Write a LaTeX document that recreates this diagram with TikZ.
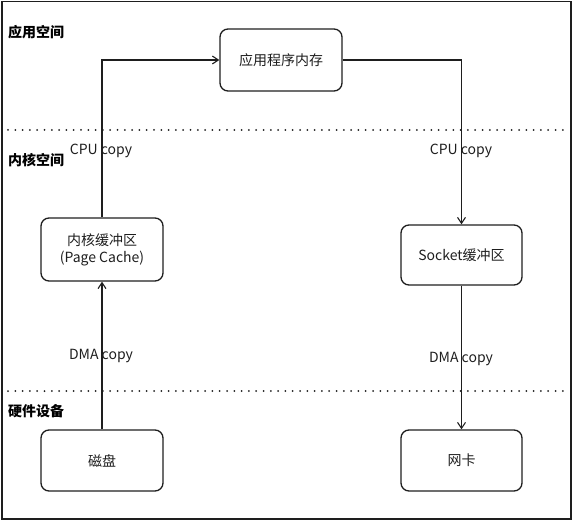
\documentclass[tikz,border=0pt]{standalone}
\usepackage{fontspec}
\setmainfont{Noto Sans CJK SC}
\usetikzlibrary{arrows.meta}
\definecolor{ink}{HTML}{1E1E1E}
\tikzset{
  box/.style={draw=ink, line width=1.3pt, rounded corners=8pt, minimum width=122pt, minimum height=62pt, inner sep=0pt, align=center, font=\fontsize{14}{17}\selectfont, text=ink},
  link/.style={draw=ink, line width=1.2pt, -{Straight Barb[length=6pt,width=8pt,line width=1.1pt]}},
  lbl/.style={font=\fontsize{14}{17}\selectfont, text=ink, inner sep=0pt},
  zone/.style={font=\fontsize{14}{17}\selectfont\bfseries, text=black, anchor=west, inner sep=0pt},
  sep/.style={draw=ink, line width=2pt, line cap=round, dash pattern=on 0pt off 7.3pt}
}
\begin{document}
\begin{tikzpicture}[x=1pt,y=-1pt]
\useasboundingbox (0,0) rectangle (573,521);
\draw[ink, line width=1.3pt] (2,1.5) rectangle (571,519);
\draw[sep] (8,130) -- (570,130);
\draw[sep] (8,391) -- (570,391);
\node[zone] (z1) at (8,32) {应用空间};
\node[zone] (z2) at (8,160) {内核空间};
\node[zone] (z3) at (8,411) {硬件设备};
\node[box] (app) at (281,60) {应用程序内存};
\node[box, minimum height=63pt] (kern) at (102,249.5) {内核缓冲区\\(Page Cache)};
\node[box, minimum width=121pt, minimum height=60pt] (sock) at (461.5,255) {Socket缓冲区};
\node[box, minimum height=61pt] (disk) at (102,460.5) {磁盘};
\node[box, minimum width=121pt, minimum height=61pt] (nic) at (461.5,460.5) {网卡};
\coordinate (c1) at (kern.north |- app.west);
\coordinate (c2) at (sock.north |- app.east);
\draw[link] (kern.north) -- (c1) -- (app.west);
\draw[link] (app.east) -- (c2) -- (sock.north);
\draw[link] (disk.north) -- (kern.south);
\draw[link] (sock.south) -- (nic.north);
\node[lbl] (l1) at (101,151) {CPU copy};
\node[lbl] (l2) at (461,151) {CPU copy};
\node[lbl] (l3) at (101,356) {DMA copy};
\node[lbl] (l4) at (461,359) {DMA copy};
\end{tikzpicture}
\end{document}
